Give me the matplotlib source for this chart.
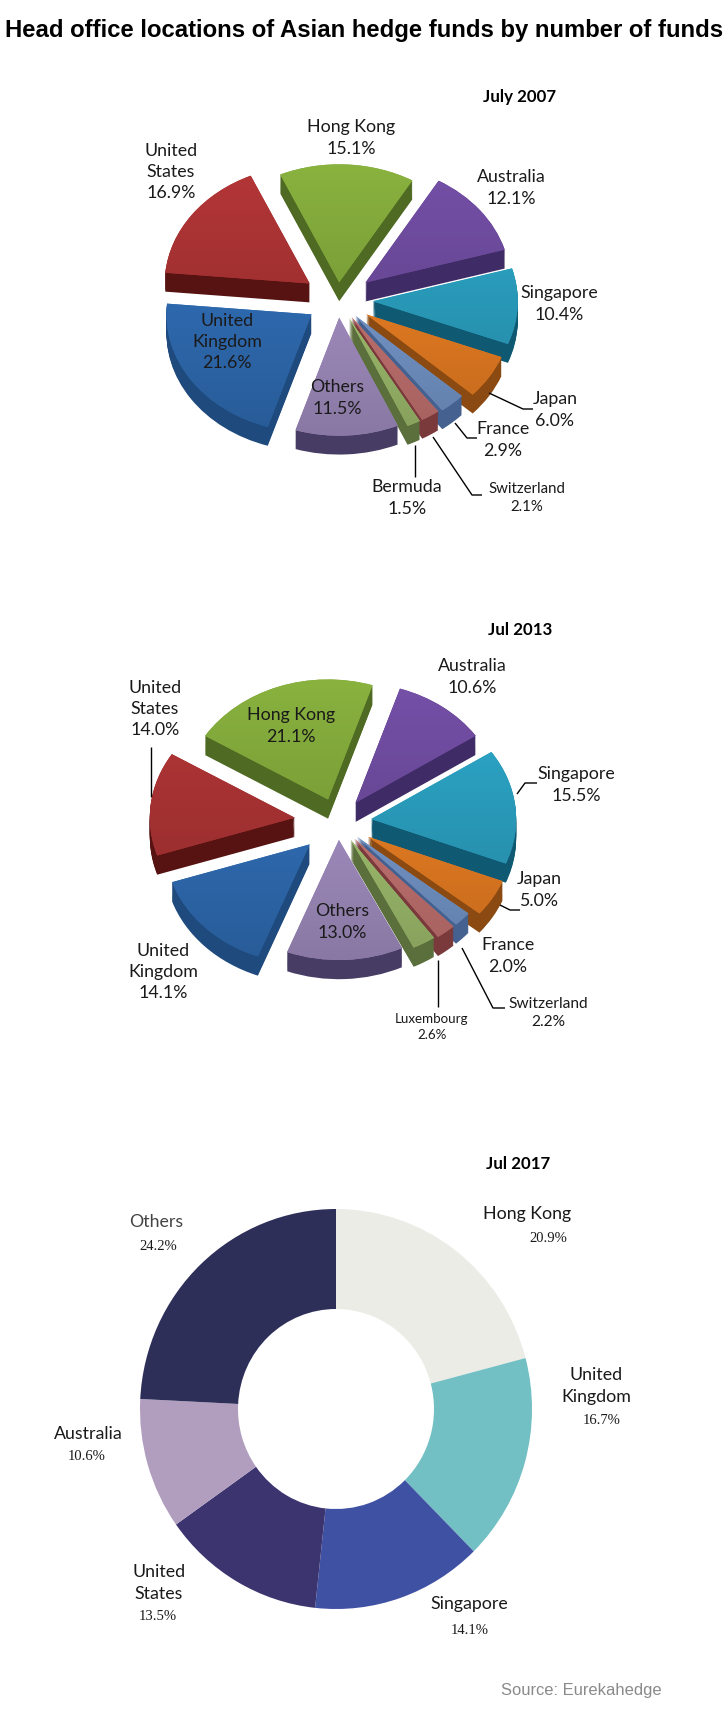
import numpy as np
import matplotlib
matplotlib.use("Agg")
import matplotlib.pyplot as plt
from matplotlib.colors import to_rgb

W, H = 728, 1732
SANS = "Lato"

# ---------- data ----------
names_2007 = ["Hong Kong", "Australia", "Singapore", "Japan", "France",
              "Switzerland", "Bermuda", "Others", "United\nKingdom", "United\nStates"]
values_2007 = [15.1, 12.1, 10.4, 6.0, 2.9, 2.1, 1.5, 11.5, 21.6, 16.9]

names_2013 = ["Hong Kong", "Australia", "Singapore", "Japan", "France",
              "Switzerland", "Luxembourg", "Others", "United\nKingdom", "United\nStates"]
values_2013 = [21.1, 10.6, 15.5, 5.0, 2.0, 2.2, 2.6, 13.0, 14.1, 14.0]

names_2017 = ["Hong Kong", "United\nKingdom", "Singapore", "United\nStates", "Australia", "Others"]
values_2017 = [20.9, 16.7, 14.1, 13.5, 10.6, 24.2]

title = "Head office locations of Asian hedge funds by number of funds"
source = "Source: Eurekahedge"

# ---------- styles ----------
top_colors = ["#7fa53a", "#6c4a9b", "#2a9cbc", "#e37b22", "#7394c6",
              "#c0716f", "#9dbb6c", "#a08cbe", "#2f6bb1", "#a73233"]
side_colors = ["#4f6a22", "#3f2c66", "#0f5a72", "#8a4a12", "#44618f",
               "#7a3a3c", "#5b6f3c", "#473c63", "#1f4a7d", "#561311"]
explode_2007 = [0.15, 0.24, 0.24, 0.23, 0.18, 0.17, 0.17, 0.15, 0.22, 0.24]
explode_2013 = [0.2, 0.2, 0.23, 0.24, 0.18, 0.18, 0.17, 0.15, 0.27, 0.3]
donut_colors = ["#ebece6", "#72bfc4", "#3f51a3", "#3b346e", "#b19ebf", "#2e2f59"]

fig = plt.figure(figsize=(W / 100, H / 100), dpi=100, facecolor="white")


def pixel_axes(cx, cy, rx, ry, lim=1.5):
    ax = fig.add_axes([(cx - lim * rx) / W, 1 - (cy + lim * ry) / H,
                       2 * lim * rx / W, 2 * lim * ry / H])
    return ax


def pie3d(values, explode, start, cx, cy, rx, ry, depth):
    lim = 1.5
    ax = pixel_axes(cx, cy, rx, ry, lim)
    steps = 18
    for i in range(steps, 0, -1):
        ax.pie(values, explode=explode, colors=side_colors, startangle=start,
               counterclock=False, normalize=True,
               center=(0, -depth * i / steps), wedgeprops={"linewidth": 0})
    wedges, _ = ax.pie(values, explode=explode, colors=top_colors, startangle=start,
                       counterclock=False, normalize=True, wedgeprops={"linewidth": 0})
    for w, col in zip(wedges, top_colors):
        base = np.array(to_rgb(col))
        shade = np.linspace(1.08, 0.86, 128)[:, None, None]
        arr = np.clip(base[None, None, :] * shade, 0, 1)
        cy0, th = w.center[1], 1.0
        im = ax.imshow(arr, extent=[-lim, lim, cy0 - th, cy0 + th], aspect="auto",
                       zorder=w.get_zorder() + 1, origin="upper")
        im.set_clip_path(w)
    ax.set_aspect("auto")
    ax.set_xlim(-lim, lim)
    ax.set_ylim(-lim, lim)
    ax.axis("off")


pie3d(values_2007, explode_2007, 114, 338, 300, 145, 118, 0.16)
pie3d(values_2013, explode_2013, 148, 338, 822, 145, 120, 0.16)

ax3 = pixel_axes(336, 1409, 196, 200, 1.1)
ax3.pie(values_2017, colors=donut_colors, startangle=90, counterclock=False,
        normalize=True, wedgeprops={"width": 0.5, "linewidth": 0})
ax3.set_aspect("auto")
ax3.set_xlim(-1.1, 1.1)
ax3.set_ylim(-1.1, 1.1)

# overlay in pixel coordinates for labels and leaders
ov = fig.add_axes([0, 0, 1, 1], zorder=10)
ov.set_xlim(0, W)
ov.set_ylim(H, 0)
ov.axis("off")
ov.patch.set_alpha(0)


def lab(x, y, s, size=12.8, **kw):
    kw.setdefault("family", SANS)
    kw.setdefault("color", "#1a1a1a")
    ov.text(x, y, s, ha="center", va="center", fontsize=size,
            linespacing=1.42, **kw)


def pct(v):
    return f"{v:.1f}%"


ov.text(364, 31, title, ha="center", va="center", fontsize=17.2, fontweight="bold",
        family="Liberation Sans", color="black")

# 2007
lab(520, 97, "July 2007", size=12.2, fontweight="bold", color="black")
pos_2007 = [(351, 138), (511, 188), (559, 304), (555, 410), (503, 440),
            (527, 498), (407, 498), (337, 398), (227, 342), (171, 172)]
for n, v, p in zip(names_2007, values_2007, pos_2007):
    lab(p[0], p[1], f"{n}\n{pct(v)}", size=10.8 if n == "Switzerland" else 12.8)
# 2013
lab(520, 630, "Jul 2013", size=12.2, fontweight="bold", color="black")
pos_2013 = [(291, 726), (472, 677), (576, 785), (539, 890), (508, 956),
            (548, 1013), (432, 1027), (342, 922), (163, 972), (155, 709)]
for n, v, p in zip(names_2013, values_2013, pos_2013):
    size = {"Switzerland": 11.2, "Luxembourg": 9.6}.get(n, 12.8)
    lab(p[0], p[1], f"{n}\n{pct(v)}", size=size)

# leaders
leaders = [
    [(489, 393), (523, 409), (533, 409)],
    [(455, 423), (467, 438), (477, 438)],
    [(433, 437), (472, 495), (482, 495)],
    [(415, 445), (415, 477)],
    [(151, 747), (151, 797)],
    [(517, 794), (525, 783), (537, 783)],
    [(500, 905), (510, 910), (520, 910)],
    [(462, 948), (493, 1008), (505, 1008)],
    [(438, 960), (438, 1007)],
]
for seg in leaders:
    xs, ys = zip(*seg)
    ov.plot(xs, ys, color="black", lw=1.0, solid_capstyle="butt")

# 2017
lab(518, 1164, "Jul 2017", size=12.2, fontweight="bold", color="black")
name_pos_2017 = [(527, 1214), (596, 1386), (469, 1604), (159, 1583), (88, 1434), (156, 1222)]
val_pos_2017 = [(548, 1238), (602, 1421), (470, 1630), (158, 1617), (87, 1457), (158, 1246)]
for n, v, p, q in zip(names_2017, values_2017, name_pos_2017, val_pos_2017):
    lab(p[0], p[1], n, size=12.8, color="#444444" if n == "Others" else "#1a1a1a")
    lab(q[0], q[1], pct(v), size=10.5, family="Liberation Serif")

ov.text(581, 1690, source, ha="center", va="center", fontsize=11.9,
        family="Liberation Sans", color="#8a8a8a")

fig.savefig("out.png", dpi=100, facecolor="white")
